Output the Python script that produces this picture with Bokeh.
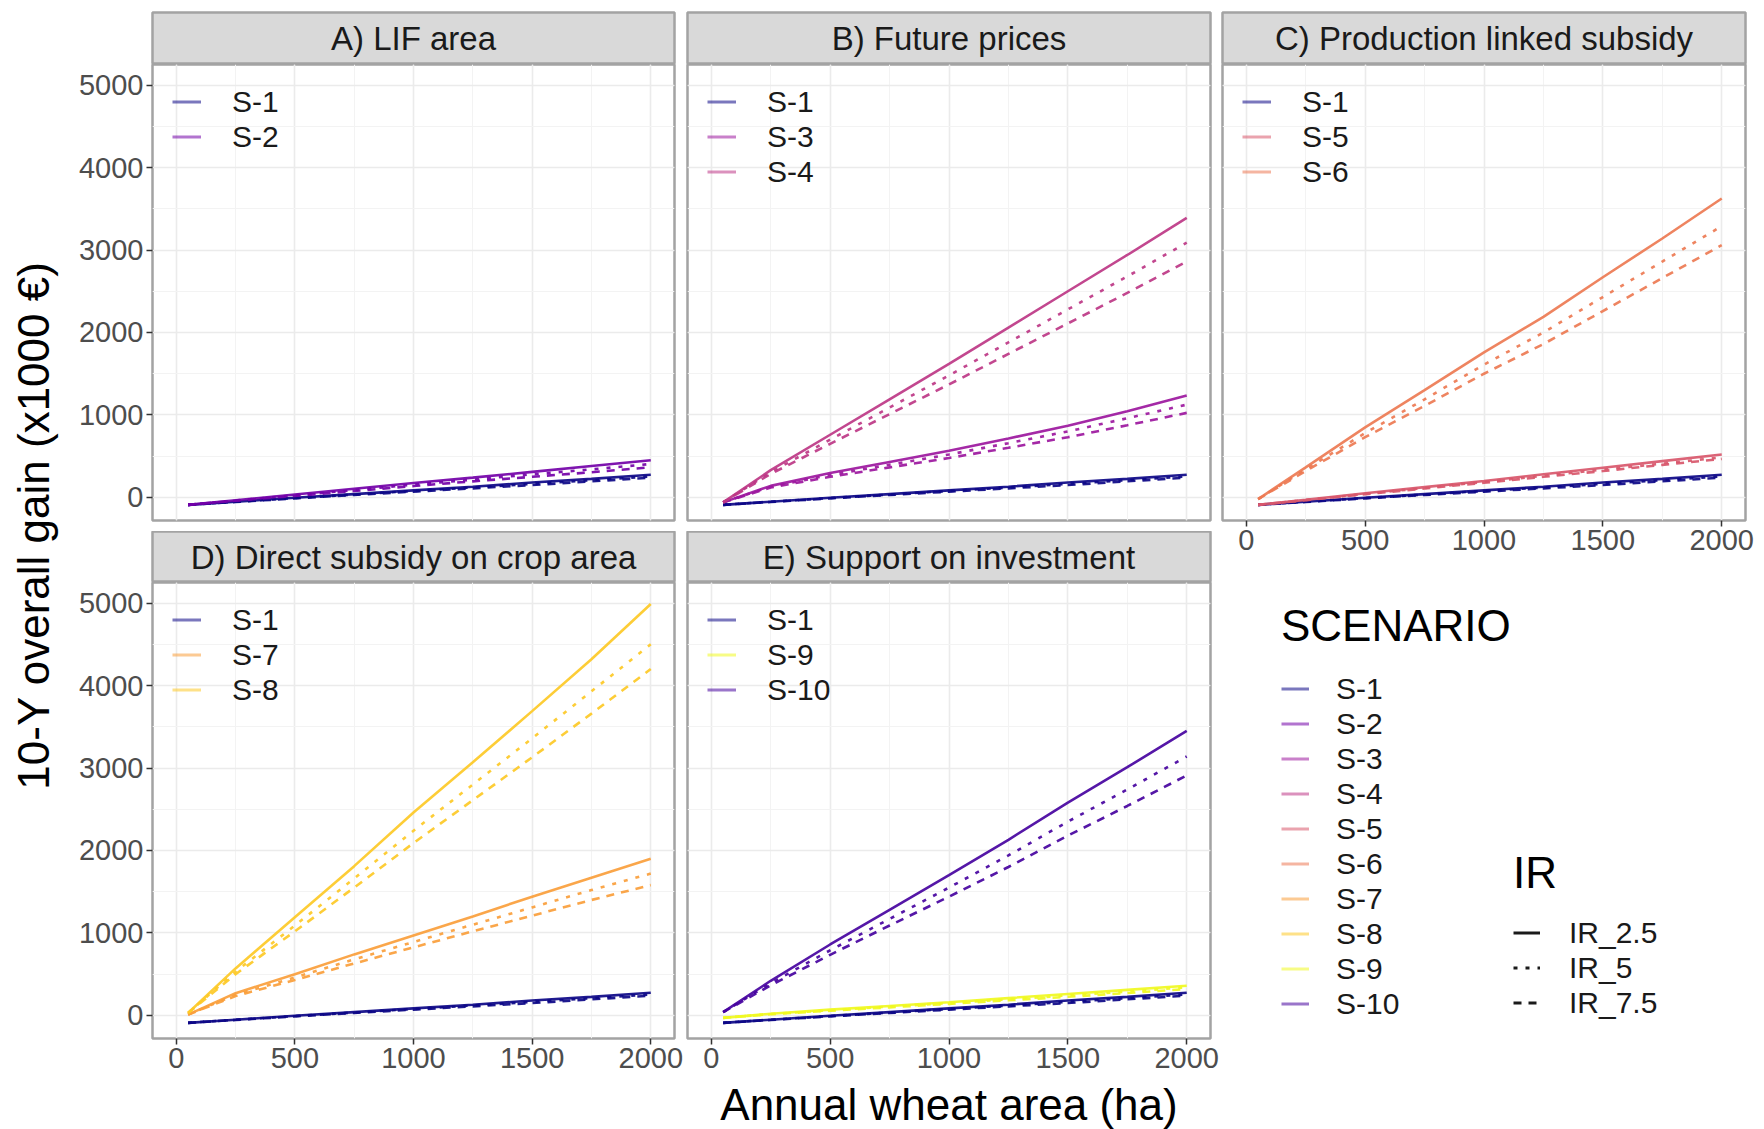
import math
from bokeh.plotting import figure
from bokeh.layouts import row, column
from bokeh.models import Range1d, SingleIntervalTicker, Grid, LinearAxis, Legend, LegendItem
from bokeh.core.properties import value
from bokeh.embed import file_html
from bokeh.resources import INLINE

FONT = "Liberation Sans"

# ---------------- data ----------------
AREA = [50, 250, 500, 750, 1000, 1250, 1500, 1750, 2000]

S1_IR25 = [-90, -52, -5, 40, 85, 130, 180, 225, 275]
S1_IR5 = [-90, -53, -8, 35, 78, 120, 165, 208, 255]
S1_IR75 = [-90, -55, -12, 30, 70, 110, 150, 195, 240]

S2_IR25 = [-90, -35, 35, 105, 175, 240, 310, 380, 450]
S2_IR5 = [-90, -38, 25, 90, 155, 215, 280, 340, 405]
S2_IR75 = [-90, -40, 18, 78, 138, 195, 250, 305, 365]

S3_IR25 = [-60, 140, 295, 430, 565, 715, 870, 1045, 1235]
S3_IR5 = [-60, 130, 272, 396, 520, 658, 800, 960, 1125]
S3_IR75 = [-60, 120, 250, 364, 478, 602, 730, 875, 1025]

S4_IR25 = [-60, 330, 760, 1190, 1620, 2060, 2500, 2940, 3390]
S4_IR5 = [-60, 305, 700, 1090, 1480, 1880, 2280, 2680, 3090]
S4_IR75 = [-60, 285, 650, 1010, 1370, 1740, 2110, 2480, 2860]

S5_IR25 = [-90, -30, 50, 125, 200, 280, 360, 440, 520]
S5_IR5 = [-90, -32, 42, 115, 188, 262, 337, 410, 486]
S5_IR75 = [-90, -34, 38, 108, 178, 250, 320, 395, 466]

S6_IR25 = [-20, 365, 850, 1300, 1760, 2190, 2670, 3140, 3625]
S6_IR5 = [-20, 340, 780, 1190, 1610, 2000, 2430, 2860, 3290]
S6_IR75 = [-20, 320, 730, 1110, 1500, 1860, 2260, 2660, 3060]

S7_IR25 = [10, 270, 500, 740, 970, 1200, 1440, 1670, 1900]
S7_IR5 = [10, 250, 460, 680, 890, 1100, 1310, 1520, 1720]
S7_IR75 = [10, 235, 430, 630, 825, 1020, 1210, 1400, 1580]

S8_IR25 = [30, 570, 1190, 1810, 2460, 3070, 3690, 4320, 4990]
S8_IR5 = [30, 530, 1090, 1660, 2240, 2800, 3360, 3930, 4500]
S8_IR75 = [30, 500, 1020, 1550, 2090, 2610, 3130, 3660, 4200]

S9_IR25 = [-30, 20, 70, 115, 160, 210, 260, 310, 360]
S9_IR5 = [-30, 17, 63, 106, 150, 195, 242, 290, 340]
S9_IR75 = [-30, 14, 57, 98, 140, 183, 226, 272, 320]

S10_IR25 = [40, 420, 860, 1280, 1700, 2130, 2580, 3010, 3450]
S10_IR5 = [40, 390, 790, 1170, 1550, 1940, 2350, 2740, 3140]
S10_IR75 = [40, 365, 735, 1090, 1440, 1800, 2180, 2540, 2910]

SCENARIOS = ["S-1", "S-2", "S-3", "S-4", "S-5", "S-6", "S-7", "S-8", "S-9", "S-10"]
SCENARIO_COLORS = ["#0D0887", "#7301A8", "#9C179E", "#BD3786", "#D8576B",
                   "#ED7953", "#FA9E3B", "#FDC926", "#F0F921", "#47039F"]
IR_LEVELS = ["IR_2.5", "IR_5", "IR_7.5"]
IR_DASH = ["solid", "4 8", "8 7"]

PANEL_TITLES = ["A) LIF area", "B) Future prices", "C) Production linked subsidy",
                "D) Direct subsidy on crop area", "E) Support on investment"]
PANEL_SCENARIOS = [["S-1", "S-2"], ["S-1", "S-3", "S-4"], ["S-1", "S-5", "S-6"],
                   ["S-1", "S-7", "S-8"], ["S-1", "S-9", "S-10"]]

X_TITLE = "Annual wheat area (ha)"
Y_TITLE = "10-Y overall gain (x1000 \u20ac)"

GAIN = {
    "S-1": [S1_IR25, S1_IR5, S1_IR75],
    "S-2": [S2_IR25, S2_IR5, S2_IR75],
    "S-3": [S3_IR25, S3_IR5, S3_IR75],
    "S-4": [S4_IR25, S4_IR5, S4_IR75],
    "S-5": [S5_IR25, S5_IR5, S5_IR75],
    "S-6": [S6_IR25, S6_IR5, S6_IR75],
    "S-7": [S7_IR25, S7_IR5, S7_IR75],
    "S-8": [S8_IR25, S8_IR5, S8_IR75],
    "S-9": [S9_IR25, S9_IR5, S9_IR75],
    "S-10": [S10_IR25, S10_IR5, S10_IR75],
}
COLOR = dict(zip(SCENARIOS, SCENARIO_COLORS))

BORDER = "#a3a3a3"
NAN = [float("nan")]

FRAME_H = 456


def base_fig(**kw):
    return figure(output_backend="svg", toolbar_location=None, title=None,
                  border_fill_color="white", **kw)


def strip(title, fw, left, right, top, fh):
    p = base_fig(frame_width=fw, frame_height=fh, min_border_left=left, min_border_right=right,
                 min_border_top=top, min_border_bottom=0,
                 x_range=Range1d(0, 1), y_range=Range1d(0, 1),
                 x_axis_type=None, y_axis_type=None,
                 background_fill_color="#d9d9d9", outline_line_color=BORDER, outline_line_width=2.5)
    p.text(x=[0.5], y=[0.5], text=[title], text_align="center", text_baseline="middle",
           text_font=value(FONT), text_font_size="33px", text_color="#1a1a1a")
    return p


def style_axis(ax):
    ax.axis_line_color = None
    ax.major_tick_line_color = "#333333"
    ax.major_tick_line_width = 1.5
    ax.major_tick_out = 6
    ax.major_tick_in = 0
    ax.minor_tick_line_color = None
    ax.major_label_text_font = FONT
    ax.major_label_text_font_size = "29px"
    ax.major_label_text_color = "#4d4d4d"
    ax.major_label_standoff = 3


def panel(idx, fw, left, right, bottom, show_x, show_y, xlabel=None):
    p = base_fig(frame_width=fw, frame_height=FRAME_H, min_border_left=left, min_border_right=right,
                 min_border_top=0, min_border_bottom=bottom,
                 x_range=Range1d(-100, 2100), y_range=Range1d(-280, 5250),
                 x_axis_type=None, y_axis_type=None,
                 background_fill_color="white", outline_line_color=BORDER, outline_line_width=2.5)
    p.add_layout(Grid(dimension=0, ticker=SingleIntervalTicker(interval=500, num_minor_ticks=2),
                      grid_line_color="#ebebeb", grid_line_width=1.6,
                      minor_grid_line_color="#f3f3f3", minor_grid_line_width=1.0))
    p.add_layout(Grid(dimension=1, ticker=SingleIntervalTicker(interval=1000, num_minor_ticks=2),
                      grid_line_color="#ebebeb", grid_line_width=1.6,
                      minor_grid_line_color="#f3f3f3", minor_grid_line_width=1.0))
    if show_x:
        ax = LinearAxis(ticker=SingleIntervalTicker(interval=500))
        style_axis(ax)
        if xlabel:
            ax.axis_label = xlabel
            ax.axis_label_text_font = FONT
            ax.axis_label_text_font_size = "44px"
            ax.axis_label_text_font_style = "normal"
            ax.axis_label_text_color = "#000000"
            ax.axis_label_standoff = 9
        p.add_layout(ax, "below")
    if show_y:
        ay = LinearAxis(ticker=SingleIntervalTicker(interval=1000))
        style_axis(ay)
        p.add_layout(ay, "left")

    scens = PANEL_SCENARIOS[idx]
    for s in sorted(scens):
        for k, ir in enumerate(IR_LEVELS):
            p.line(AREA, GAIN[s][k], line_color=COLOR[s], line_width=2.6, line_alpha=0.92,
                   line_dash=IR_DASH[k])
    items = []
    for s in scens:
        r = p.line(NAN, NAN, line_color=COLOR[s], line_width=3, line_alpha=0.55)
        items.append(LegendItem(label=s, renderers=[r]))
    lg = Legend(items=items, location="top_left", margin=0, padding=20, spacing=0,
                glyph_width=29, glyph_height=35, label_height=35, label_standoff=31,
                label_text_font=FONT, label_text_font_size="30px", label_text_color="#1a1a1a",
                background_fill_alpha=0, border_line_alpha=0)
    p.add_layout(lg, "center")
    return p


# column 0 : y title
ytitle = base_fig(width=60, height=1129, min_border=0, x_range=Range1d(0, 1), y_range=Range1d(0, 1),
                  x_axis_type=None, y_axis_type=None, outline_line_color=None,
                  background_fill_color="white")
ytitle.text(x=[0.55], y=[0.535], text=[Y_TITLE], angle=math.pi / 2, text_align="center",
            text_baseline="middle", text_font=value(FONT), text_font_size="44px", text_color="#000000")

# column 1
stripA = strip(PANEL_TITLES[0], 522, 92, 11, 12, 52)
pA = panel(0, 522, 92, 11, 11, False, True)
stripD = strip(PANEL_TITLES[3], 522, 92, 11, 0, 51)
pD = panel(3, 522, 92, 11, 50, True, True)
col1 = column(stripA, pA, stripD, pD, spacing=0)

# column 2
stripB = strip(PANEL_TITLES[1], 523, 2, 10, 12, 52)
pB = panel(1, 523, 2, 10, 11, False, False)
stripE = strip(PANEL_TITLES[4], 523, 2, 10, 0, 51)
pE = panel(4, 523, 2, 10, 91, True, False, xlabel=X_TITLE)
col2 = column(stripB, pB, stripE, pE, spacing=0)

# column 3
stripC = strip(PANEL_TITLES[2], 523, 2, 19, 12, 52)
pC = panel(2, 523, 2, 19, 45, True, False)

leg = base_fig(width=544, height=564, min_border=0, x_range=Range1d(0, 1), y_range=Range1d(0, 1),
               x_axis_type=None, y_axis_type=None, outline_line_color=None,
               background_fill_color="white")
sc_items = []
for s in SCENARIOS:
    r = leg.line(NAN, NAN, line_color=COLOR[s], line_width=3, line_alpha=0.55)
    sc_items.append(LegendItem(label=s, renderers=[r]))
ir_items = []
for k, ir in enumerate(IR_LEVELS):
    r = leg.line(NAN, NAN, line_color="#1a1a1a", line_width=3, line_dash=IR_DASH[k])
    ir_items.append(LegendItem(label=ir, renderers=[r]))

common = dict(margin=0, padding=5, spacing=0, glyph_height=35, label_height=35,
              label_text_font=FONT, label_text_font_size="30px", label_text_color="#1a1a1a",
              title_text_font=FONT, title_text_font_size="44px", title_text_font_style="normal",
              title_text_color="#000000", background_fill_alpha=0, border_line_alpha=0)
sc_leg = Legend(items=sc_items, title="SCENARIO", location=(54, 103), glyph_width=28,
                label_standoff=27, title_standoff=20, **common)
ir_leg = Legend(items=ir_items, title="IR", location=(286, 104), glyph_width=27,
                label_standoff=29, title_standoff=17, **common)
leg.add_layout(sc_leg, "center")
leg.add_layout(ir_leg, "center")

col3 = column(stripC, pC, leg, spacing=0)

layout = row(ytitle, col1, col2, col3, spacing=0)

open("out.html", "w").write(file_html(layout, INLINE))
